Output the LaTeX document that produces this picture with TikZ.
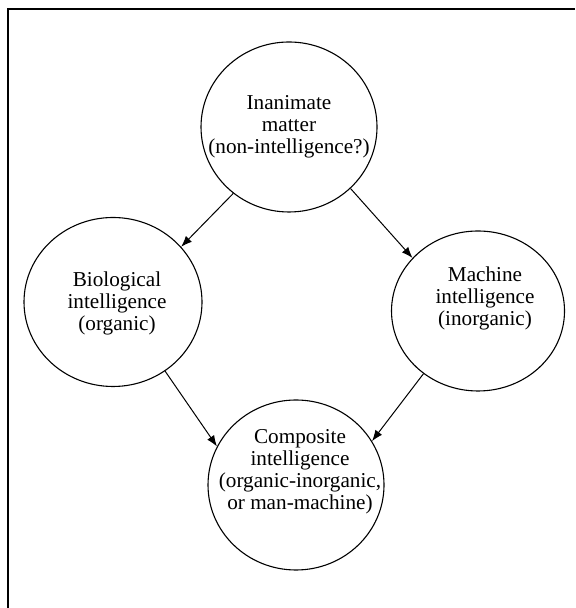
\documentclass[tikz,border=0pt]{standalone}
\usepackage{fontspec}
\setmainfont{Liberation Serif}
\usetikzlibrary{shapes.geometric,arrows.meta}

\tikzset{
	blob/.style={draw,ellipse,inner sep=0pt,line width=0.55pt},
	txt/.style={align=center,inner sep=0pt,font=\fontsize{10.6}{11}\selectfont},
	link/.style={line width=0.5pt,-{Latex[length=5.5pt,width=4.2pt]}}
}

\begin{document}
\begin{tikzpicture}[x=0.5pt,y=0.5pt]
	\useasboundingbox (0,0) rectangle (575,608);
	% frame, top and left side only
	\draw[line width=1pt] (8,0) -- (8,599) -- (575,599);

	% circles
	\node[blob,minimum width=88pt,minimum height=85pt] (inanimate) at (289,481) {};
	\node[blob,minimum width=89pt,minimum height=84.5pt] (bio) at (113,306) {};
	\node[blob,minimum width=86.5pt,minimum height=80pt] (machine) at (478,297) {};
	\node[blob,minimum width=88pt,minimum height=85pt] (composite) at (296,123) {};

	% texts
	\node[txt] (inanimatetxt) at (289,481) {Inanimate\\matter\\(non-intelligence?)};
	\node[txt] (biotxt) at (117,305) {Biological\\intelligence\\(organic)};
	\node[txt] (machinetxt) at (485,310) {Machine\\intelligence\\(inorganic)};
	\node[txt] (compositetxt) at (300,136) {Composite\\intelligence\\(organic-inorganic,\\or man-machine)};

	% arrows
	\draw[link] (inanimate.230) -- (bio.39);
	\draw[link] (inanimate.315) -- (machine.141);
	\draw[link] (bio.307) -- (composite.154);
	\draw[link] (machine.229) -- (composite.30);
\end{tikzpicture}
\end{document}
